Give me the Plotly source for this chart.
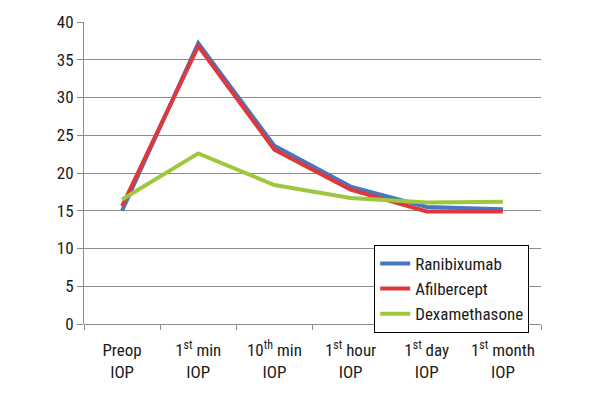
import plotly.graph_objects as go

categories = ["Preop<br>IOP", "1<sup>st</sup> min<br>IOP", "10<sup>th</sup> min<br>IOP",
              "1<sup>st</sup> hour<br>IOP", "1<sup>st</sup> day<br>IOP", "1<sup>st</sup> month<br>IOP"]
ranibizumab = [15.0, 37.2, 23.6, 18.2, 15.5, 15.2]
afilbercept = [15.6, 36.8, 23.1, 17.8, 14.9, 14.9]
dexamethasone = [16.5, 22.6, 18.4, 16.7, 16.1, 16.2]
y_ticks = [0, 5, 10, 15, 20, 25, 30, 35, 40]

FONT = "Roboto Condensed, Liberation Sans Narrow, Arial Narrow, sans-serif"

fig = go.Figure()
for name, vals, col in [("Ranibixumab", ranibizumab, "#4577c2"),
                        ("Afilbercept", afilbercept, "#e0383a"),
                        ("Dexamethasone", dexamethasone, "#9dc83e")]:
    fig.add_trace(go.Scatter(x=categories, y=vals, mode="lines", name=name,
                             line=dict(color=col, width=4)))

fig.update_layout(
    width=600, height=400,
    margin=dict(l=76, r=67, t=14, b=84),
    paper_bgcolor="white", plot_bgcolor="white",
    font=dict(family=FONT, size=16, color="#1a1a1a"),
    showlegend=True,
    legend=dict(x=0.635, y=0.262, xanchor="left", yanchor="top",
                bgcolor="white", bordercolor="black", borderwidth=1,
                font=dict(size=17), tracegroupgap=0, itemwidth=30),
    xaxis=dict(type="category", range=[-0.5, 5.5], tickson="boundaries",
               ticks="outside", ticklen=5, tickcolor="#8c8c8c",
               showline=False, showgrid=False, fixedrange=True,
               automargin=False, ticklabelstandoff=14,
               tickfont=dict(size=17)),
    yaxis=dict(range=[0, 40], tickvals=y_ticks, ticks="outside", ticklen=6,
               tickcolor="#8c8c8c", showline=True, linecolor="#8c8c8c",
               linewidth=1, gridcolor="#8c8c8c", gridwidth=1,
               zeroline=True, zerolinecolor="#8c8c8c", zerolinewidth=1,
               automargin=False, tickfont=dict(size=17)),
)

fig.write_html("out.html")
